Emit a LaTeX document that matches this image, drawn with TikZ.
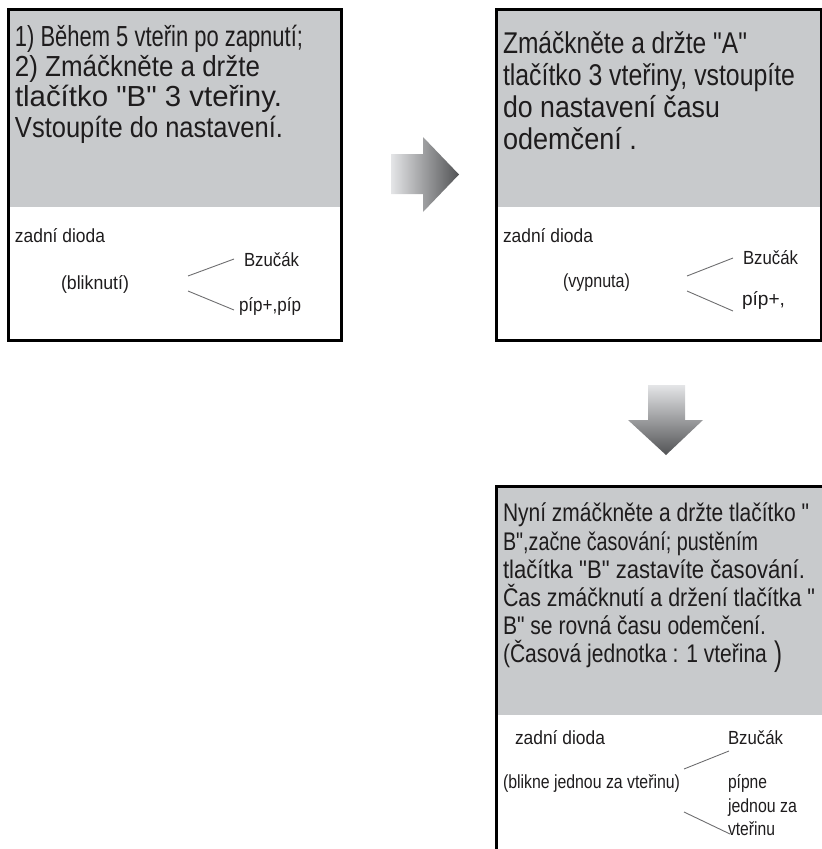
\documentclass[tikz,border=0pt]{standalone}
\usepackage{fontspec}
\setmainfont{Liberation Sans}
\newfontfamily\lsans{Liberation Sans}
\definecolor{panel}{RGB}{200,202,204}
\definecolor{ink}{RGB}{30,28,29}
\definecolor{wire}{RGB}{110,110,112}
\definecolor{arrlight}{RGB}{228,229,231}
\definecolor{arrdark}{RGB}{82,83,85}
\newsavebox\fitbox
\newcommand\fitw[2]{\sbox\fitbox{#2}\pgfmathsetmacro\fitsx{#1/\the\wd\fitbox}\scalebox{\fitsx}[1]{\usebox\fitbox}}
\begin{document}
\begin{tikzpicture}[x=1pt,y=-1pt,
  txt/.style={anchor=base west,inner sep=0pt,outer sep=0pt,text=ink},
  bigA/.style={txt,font=\lsans\fontsize{29}{29}\selectfont},
  bigB/.style={txt,font=\lsans\fontsize{30}{30}\selectfont},
  bigC/.style={txt,font=\lsans\fontsize{25.5}{25.5}\selectfont},
  lbl/.style={txt,font=\lsans\fontsize{19}{19}\selectfont},
  wireline/.style={draw=wire,line width=0.9pt},
  frame/.style={draw=black,line width=3pt},
  panelfill/.style={fill=panel}]
\useasboundingbox (0,0) rectangle (822,849);
\begin{scope}
\clip (0,0) rectangle (822,849);
% ---------- box 1
\fill[panelfill] (8.5,9.5) rectangle (341,207);
\draw[frame] (8.5,9.5) rectangle (341,340);
% ---------- box 2
\fill[panelfill] (496,9.5) rectangle (821,207);
\draw[frame] (496,9.5) rectangle (821,340);
% ---------- box 3
\fill[panelfill] (496,486) rectangle (830,715);
\draw[frame] (496,486) rectangle (830,862);
\end{scope}
% ---------- arrows
\shade[left color=arrlight,right color=arrdark]
  (391,154) -- (423,154) -- (423,137) -- (459,174.5) -- (423,212) -- (423,194) -- (391,194) -- cycle;
\shade[top color=arrlight,bottom color=arrdark]
  (648,385) -- (685,385) -- (685,420) -- (703,420) -- (666,455) -- (628,420) -- (648,420) -- cycle;
% ---------- box 1 text
\node[bigA] (a1) at (15,46) {\fitw{288}{1) Během 5 vteřin po zapnutí;}};
\node[bigA] (a2) at (15,76) {\fitw{245}{2) Zmáčkněte a držte}};
\node[bigA] (a3) at (15,106.5) {\fitw{267}{tlačítko "B" 3 vteřiny.}};
\node[bigA] (a4) at (15,137) {\fitw{268}{Vstoupíte do nastavení.}};
\node[lbl] (a5) at (15,242) {\fitw{90}{zadní dioda}};
\node[lbl] (a6) at (61,289) {\fitw{68}{(bliknutí)}};
\node[lbl] (a7) at (244,266) {\fitw{55}{Bzučák}};
\node[lbl] (a8) at (239,311) {\fitw{62}{píp+,píp}};
\coordinate (a1w1) at (188,276); \coordinate (a1w2) at (234,259);
\coordinate (a1w3) at (188,291); \coordinate (a1w4) at (234,310);
\draw[wireline] (a1w1) -- (a1w2);
\draw[wireline] (a1w3) -- (a1w4);
% ---------- box 2 text
\node[bigB] (b1) at (503,53) {\fitw{244}{Zmáčkněte a držte "A"}};
\node[bigB] (b2) at (503,85) {\fitw{292}{tlačítko 3 vteřiny, vstoupíte}};
\node[bigB] (b3) at (503,117) {\fitw{217}{do nastavení času}};
\node[bigB] (b4) at (503,149) {\fitw{134}{odemčení .}};
\node[lbl] (b5) at (503,242) {\fitw{90}{zadní dioda}};
\node[lbl] (b6) at (563,287) {\fitw{67}{(vypnuta)}};
\node[lbl] (b7) at (743,264) {\fitw{55}{Bzučák}};
\node[lbl] (b8) at (742,305) {\fitw{43}{píp+,}};
\coordinate (b1w1) at (687,276); \coordinate (b1w2) at (733,258);
\coordinate (b1w3) at (687,291); \coordinate (b1w4) at (733,311);
\draw[wireline] (b1w1) -- (b1w2);
\draw[wireline] (b1w3) -- (b1w4);
% ---------- box 3 text
\node[bigC] (c1) at (503,521.5) {\fitw{306}{Nyní zmáčkněte a držte tlačítko "}};
\node[bigC] (c2) at (503,550) {\fitw{255}{B",začne časování; pustěním}};
\node[bigC] (c3) at (503,578) {\fitw{302}{tlačítka "B" zastavíte časování.}};
\node[bigC] (c4) at (503,606) {\fitw{312}{Čas zmáčknutí a držení tlačítka "}};
\node[bigC] (c5) at (503,634) {\fitw{263}{B" se rovná času odemčení.}};
\node[bigC] (c6) at (503,662.5) {\fitw{264}{(Časová jednotka : 1 vteřina}};
\node[txt,font=\lsans\fontsize{34}{34}\selectfont] (c7) at (774,665) {\fitw{8}{)}};
\node[lbl] (c8) at (515,744) {\fitw{90}{zadní dioda}};
\node[lbl] (c9) at (503,788) {\fitw{177}{(blikne jednou za vteřinu)}};
\node[lbl] (c10) at (728,744) {\fitw{55}{Bzučák}};
\node[lbl] (c11) at (728,788) {\fitw{39}{pípne}};
\node[lbl] (c12) at (728,812) {\fitw{69}{jednou za}};
\node[lbl] (c13) at (728,835) {\fitw{47}{vteřinu}};
\coordinate (c1w1) at (684,769); \coordinate (c1w2) at (729,751);
\coordinate (c1w3) at (684,812); \coordinate (c1w4) at (730,834);
\draw[wireline] (c1w1) -- (c1w2);
\draw[wireline] (c1w3) -- (c1w4);
\end{tikzpicture}
\end{document}
